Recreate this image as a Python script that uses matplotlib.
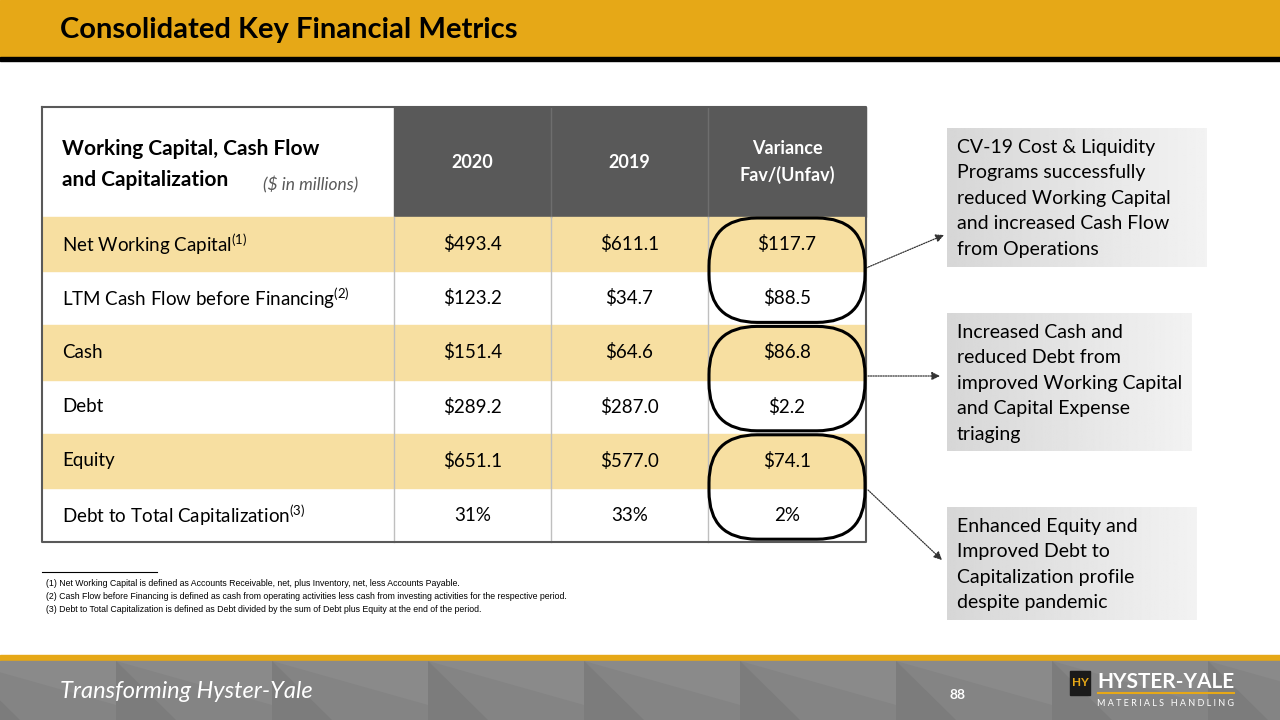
import numpy as np
import matplotlib.pyplot as plt
from matplotlib.patches import Rectangle, FancyBboxPatch, Polygon

plt.rcParams['font.family'] = ['Lato', 'DejaVu Sans']
plt.rcParams['mathtext.fontset'] = 'custom'
plt.rcParams['mathtext.rm'] = 'Lato'

# table data ($ in millions)
metrics = ['Net Working Capital$^{(1)}$', 'LTM Cash Flow before Financing$^{(2)}$',
           'Cash', 'Debt', 'Equity', 'Debt to Total Capitalization$^{(3)}$']
vals_2020 = [493.4, 123.2, 151.4, 289.2, 651.1, 31]
vals_2019 = [611.1, 34.7, 64.6, 287.0, 577.0, 33]
variance = [117.7, 88.5, 86.8, 2.2, 74.1, 2]
is_pct = [False, False, False, False, False, True]
col_headers = ['2020', '2019', 'Variance\nFav/(Unfav)']

callouts = ['CV-19 Cost & Liquidity\nPrograms successfully\nreduced Working Capital\nand increased Cash Flow\nfrom Operations',
            'Increased Cash and\nreduced Debt from\nimproved Working Capital\nand Capital Expense\ntriaging',
            'Enhanced Equity and\nImproved Debt to\nCapitalization profile\ndespite pandemic']
footnotes = ['(1) Net Working Capital is defined as Accounts Receivable, net, plus Inventory, net, less Accounts Payable.',
             '(2) Cash Flow before Financing is defined as cash from operating activities less cash from investing activities for the respective period.',
             '(3) Debt to Total Capitalization is defined as Debt divided by the sum of Debt plus Equity at the end of the period.']

GOLD = '#E6A817'
PALE = '#F7DFA1'
DARK = '#595959'


def fmt(v, pct):
    return f'{v:.0f}%' if pct else f'\\${v:.1f}'


fig = plt.figure(figsize=(12.8, 7.2), dpi=100)
ax = fig.add_axes([0, 0, 1, 1])
ax.set_xlim(0, 1280)
ax.set_ylim(720, 0)
ax.axis('off')

# title bar
ax.add_patch(Rectangle((0, 0), 1280, 58, color=GOLD, zorder=1))
ax.add_patch(Rectangle((0, 57), 1280, 4, color='black', zorder=1))
ax.text(60, 30, 'Consolidated Key Financial Metrics', fontsize=21, fontweight='bold',
        va='center', ha='left', color='black')

# table geometry
col_x = [42, 394, 551, 708, 866]
top, head_h, row_h = 107, 110, 54.2
row_y = [top + head_h + i * row_h for i in range(len(metrics) + 1)]

# header
ax.add_patch(Rectangle((col_x[1], top), col_x[4] - col_x[1], head_h, color=DARK, zorder=1))
ax.text(62, 149, 'Working Capital, Cash Flow', fontsize=15, fontweight='bold', va='center')
ax.text(62, 180, 'and Capitalization', fontsize=15, fontweight='bold', va='center')
ax.text(263, 185, '($ in millions)', fontsize=12.5, style='italic', color='#595959', va='center')
for j, h in enumerate(col_headers):
    cx = (col_x[j + 1] + col_x[j + 2]) / 2
    ax.text(cx, 162, h, fontsize=13, fontweight='bold', color='white', ha='center',
            va='center', linespacing=1.6)

# rows
for i, m in enumerate(metrics):
    y0 = row_y[i]
    if i % 2 == 0:
        ax.add_patch(Rectangle((col_x[0], y0), col_x[4] - col_x[0], row_h, color=PALE, zorder=1))
    yc = y0 + row_h / 2
    ax.text(62, yc, m, fontsize=13.5, va='center', ha='left')
    for j, v in enumerate([vals_2020[i], vals_2019[i], variance[i]]):
        cx = (col_x[j + 1] + col_x[j + 2]) / 2
        ax.text(cx, yc, fmt(v, is_pct[i]), fontsize=13.5, va='center', ha='center')

# grid lines
for x in col_x[2:4]:
    ax.plot([x, x], [top, row_y[0]], color='#6E6E6E', lw=1, zorder=2)
for x in col_x[1:4]:
    ax.plot([x, x], [row_y[0], row_y[-1]], color='#BFBFBF', lw=1, zorder=2)
ax.plot([col_x[0], col_x[0], col_x[4], col_x[4], col_x[0]],
        [top, row_y[-1], row_y[-1], top, top], color='#595959', lw=1.5, zorder=3)

# rounded outlines around variance pairs
for k in range(3):
    y0 = row_y[2 * k] + 1
    y1 = row_y[2 * k + 2] - 3
    ax.add_patch(FancyBboxPatch((709, y0), 156, y1 - y0,
                                boxstyle='round,pad=0,rounding_size=48', fc='none',
                                ec='black', lw=2.2, zorder=4))

# callout boxes with gradient
boxes = [(947, 128, 260, 139), (947, 313, 245, 138), (947, 507, 250, 113)]
grad = np.linspace(0.84, 0.95, 256).reshape(1, -1)
for (bx, by, bw, bh), txt in zip(boxes, callouts):
    ax.imshow(grad, cmap='gray', vmin=0, vmax=1, extent=(bx, bx + bw, by + bh, by),
              aspect='auto', zorder=1)
    ax.text(957, by + 11, txt, fontsize=14, va='top', ha='left', linespacing=1.6, zorder=2)

# dotted arrows
arrows = [((866, 268), (944, 235)), ((868, 376), (940, 376)), ((868, 490), (942, 560))]
for (x0, y0), (x1, y1) in arrows:
    ax.annotate('', xy=(x1, y1), xytext=(x0, y0),
                arrowprops=dict(arrowstyle='-|>', ls=(0, (1, 1)), lw=0.9, color='#333333',
                                mutation_scale=12, shrinkA=0, shrinkB=0))

# footnotes
ax.plot([42, 157], [572, 572], color='black', lw=0.8)
for i, fn in enumerate(footnotes):
    ax.text(46, 583 + i * 13.5, fn, fontsize=6.3, family='Liberation Sans', va='center')

# footer band
ax.add_patch(Rectangle((0, 655), 1280, 6, color=GOLD, zorder=1))
ax.add_patch(Rectangle((0, 661), 1280, 59, color='#848484', zorder=1))
for x in range(-40, 1300, 156):
    ax.add_patch(Polygon([(x, 661), (x + 60, 720), (x, 720)], closed=True,
                         color='#7C7C7C', lw=0, zorder=1))
    ax.add_patch(Polygon([(x, 661), (x + 156, 661), (x + 156, 705)], closed=True,
                         color='#8A8A8A', lw=0, zorder=1))
ax.text(60, 692, 'Transforming Hyster-Yale', fontsize=17, style='italic', color='white',
        va='center', ha='left', zorder=2)
ax.text(958, 695, '88', fontsize=10, fontweight='bold', color='white', va='center',
        ha='center', zorder=2)

# logo
ax.add_patch(Rectangle((1070, 671), 20, 24, color='#1A1A1A', zorder=2))
ax.text(1080, 683, 'HY', fontsize=8.5, fontweight='bold', color=GOLD, ha='center',
        va='center', zorder=3)
ax.text(1097, 682, 'HYSTER-YALE', fontsize=15, fontweight='bold', color='white',
        va='center', ha='left', zorder=2)
ax.plot([1098, 1234], [693, 693], color=GOLD, lw=1.5, zorder=2)
ax.text(1234, 703, 'M A T E R I A L S   H A N D L I N G', fontsize=6.5, color='white',
        va='center', ha='right', zorder=2)

fig.savefig('out.png', dpi=100)
